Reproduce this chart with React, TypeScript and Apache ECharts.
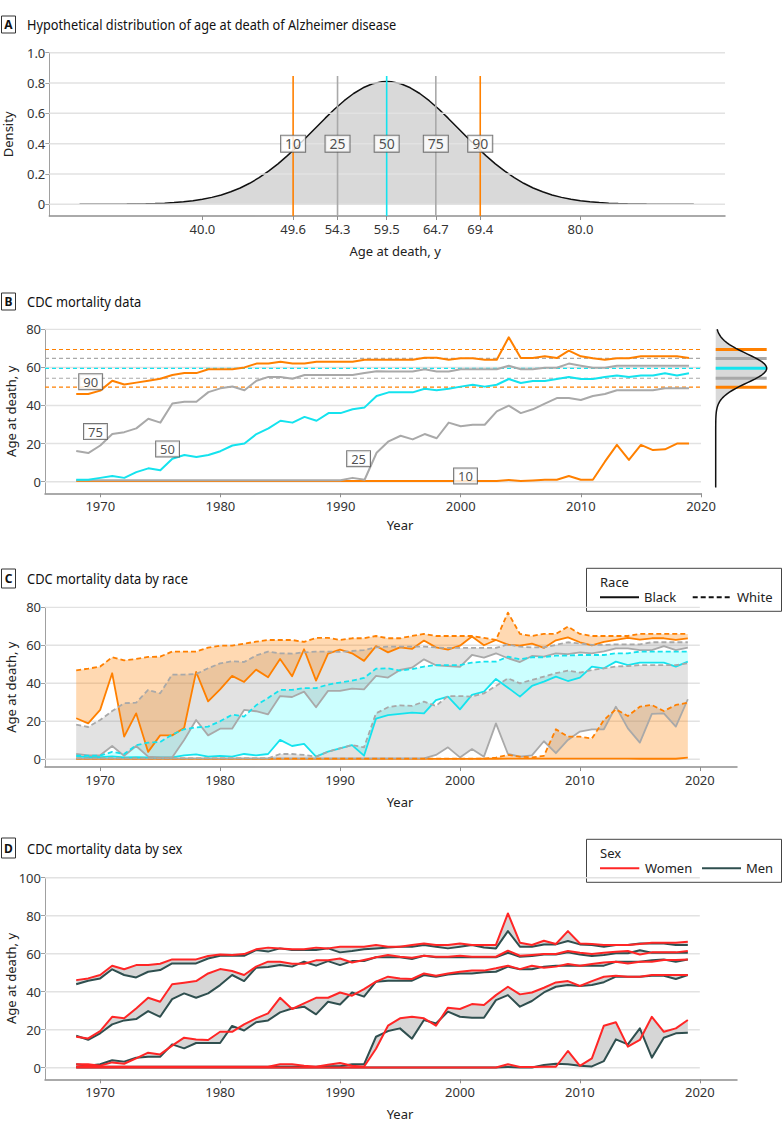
import React, { useEffect, useRef } from "react";
import * as echarts from "echarts";

const FONT = '"Noto Sans", "Open Sans", sans-serif';

const ORANGE = "#ff8000";
const GREY = "#a9a9a9";
const CYAN = "#14e3ee";
const RED = "#ff2626";
const SLATE = "#2f4f4f";
const GRIDC = "#e2e2e2";
const AXISC = "#8f8f8f";

// ---------- Panel A ----------
const densityAge = [27, 28, 29, 30, 31, 32, 33, 34, 35, 36, 37, 38, 39, 40, 41, 42, 43, 44, 45, 46, 47, 48, 49, 50, 51, 52, 53, 54, 55, 56, 57, 58, 59, 59.5, 60, 61, 62, 63, 64, 65, 66, 67, 68, 69, 70, 71, 72, 73, 74, 75, 76, 77, 78, 79, 80, 81, 82, 83, 84, 85, 86, 87, 88, 89, 90, 91, 92];
const densityValue = [0.0001, 0.0002, 0.0003, 0.0005, 0.0009, 0.0014, 0.0022, 0.0035, 0.0053, 0.0079, 0.0116, 0.0168, 0.0238, 0.0333, 0.0459, 0.062, 0.0825, 0.1079, 0.1388, 0.1756, 0.2184, 0.2671, 0.3212, 0.3799, 0.4419, 0.5053, 0.5683, 0.6285, 0.6835, 0.7309, 0.7686, 0.7949, 0.8083, 0.81, 0.8083, 0.7949, 0.7686, 0.7309, 0.6835, 0.6285, 0.5683, 0.5053, 0.4419, 0.3799, 0.3212, 0.2671, 0.2184, 0.1756, 0.1388, 0.1079, 0.0825, 0.062, 0.0459, 0.0333, 0.0238, 0.0168, 0.0116, 0.0079, 0.0053, 0.0035, 0.0022, 0.0014, 0.0009, 0.0005, 0.0003, 0.0002, 0.0001];
const pctLabels = ["10", "25", "50", "75", "90"];
const pctAges = [49.6, 54.3, 59.5, 64.7, 69.4];
const ageTicksA = [40, 49.6, 54.3, 59.5, 64.7, 69.4, 80];
const densityTicks = [0, 0.2, 0.4, 0.6, 0.8, 1.0];
const pctLineTop = 0.846;
const pctLabelDensity = 0.4;

// ---------- Shared years ----------
const years = [1968, 1969, 1970, 1971, 1972, 1973, 1974, 1975, 1976, 1977, 1978, 1979, 1980, 1981, 1982, 1983, 1984, 1985, 1986, 1987, 1988, 1989, 1990, 1991, 1992, 1993, 1994, 1995, 1996, 1997, 1998, 1999, 2000, 2001, 2002, 2003, 2004, 2005, 2006, 2007, 2008, 2009, 2010, 2011, 2012, 2013, 2014, 2015, 2016, 2017, 2018, 2019];
const yearTicks = [1970, 1980, 1990, 2000, 2010, 2020];
const ageTicks80 = [0, 20, 40, 60, 80];
const ageTicks100 = [0, 20, 40, 60, 80, 100];

// ---------- Panel B ----------
const bP90 = [46, 46, 47.8, 53, 51, 52, 53, 54, 56, 57, 57, 59, 59, 59, 60, 62, 62, 63, 62, 62, 63, 63, 63, 63, 64, 64, 64, 64, 64, 65.1, 65.1, 64, 64.8, 64.8, 64, 64, 75.8, 64.9, 64.9, 65.8, 64.9, 68.8, 65.8, 64.8, 64, 64.8, 64.8, 65.8, 65.8, 65.8, 65.8, 64.9];
const bP75 = [16.1, 15, 19, 25, 26, 28, 33, 31, 41, 42, 42, 47, 49, 50, 48, 53, 55, 55, 54, 56, 56, 56, 56, 56, 57, 58, 57.9, 57.9, 57.9, 59, 57.9, 57.9, 59, 59, 59, 59, 60.9, 59, 59, 59.8, 59.8, 62, 60.9, 59.8, 59.8, 60.9, 60.9, 60.9, 60.9, 60.9, 60.9, 60.9];
const bP50 = [1, 1, 2, 3, 2, 5, 7, 6, 12, 14, 13, 14, 16, 19, 20, 25, 28, 32, 31, 34, 32, 36, 36, 38, 39, 45, 46.9, 46.9, 46.9, 48.8, 48, 48.8, 49.9, 50.9, 49.9, 50.9, 53.9, 51.8, 52.9, 52.9, 53.9, 55, 53.9, 53.9, 55, 55.8, 55, 55.8, 55.8, 56.9, 55.8, 56.9];
const bP25 = [0.8, 0.8, 0.8, 0.8, 0.8, 0.8, 0.8, 0.8, 0.8, 0.8, 0.8, 0.8, 0.8, 0.8, 0.8, 0.8, 0.8, 0.8, 0.8, 0.8, 0.8, 0.8, 0.8, 2, 1, 15.2, 21.2, 24.1, 22.2, 25, 22.8, 31, 29.1, 29.9, 29.9, 36.9, 39.9, 36, 38, 41, 43.9, 43.9, 42.9, 45, 46, 48, 48, 48, 48, 49, 49, 49];
const bP10 = [0.3, 0.3, 0.3, 0.3, 0.3, 0.3, 0.3, 0.3, 0.3, 0.3, 0.3, 0.3, 0.3, 0.3, 0.3, 0.3, 0.3, 0.3, 0.3, 0.3, 0.3, 0.3, 0.3, 0.3, 0.3, 0.3, 0.3, 0.3, 0.3, 0.3, 0.3, 0.3, 0.3, 0.3, 0.3, 0.3, 0.9, 0.3, 0.6, 1, 1, 3, 1, 1, 10.5, 19.3, 11.4, 19.3, 16.6, 17, 20, 20];
const bLabelYear = [2000.4, 1991.5, 1975.6, 1969.6, 1969.2];
const bLabelAge = [3, 12.1, 17.2, 26.3, 52.5];
const sideTailAge = -3;

// ---------- Panel C (race) ----------
const cW90 = [46.8, 47.7, 48.8, 53.7, 52.1, 52.8, 53.9, 54, 56.7, 56.7, 56.7, 58.8, 59.8, 59.8, 60.9, 61.9, 62.8, 62.8, 62.8, 61.8, 63.9, 63.9, 62.8, 63.7, 63.7, 64.9, 63.7, 63.7, 64.9, 66, 64.9, 64.9, 64.9, 64.9, 63.9, 62.8, 77.2, 66, 64.9, 66, 66, 69.8, 66, 64.9, 64.9, 64.9, 64.9, 66, 66, 66, 66, 66];
const cB90 = [21.6, 18.9, 26, 45.3, 11.9, 24.2, 3.9, 12.6, 12.6, 16.5, 46, 30.5, 36.8, 43.9, 40.7, 47.2, 43.2, 52.8, 43.7, 57.9, 41.4, 55.6, 57.7, 55.8, 51.8, 59.6, 56.3, 58.9, 58.1, 62.5, 58.9, 57.7, 59.8, 64.6, 60, 62.8, 60.4, 59.8, 60.9, 58.6, 62.6, 64.2, 61.6, 60, 61.8, 62.8, 63.9, 63, 63.7, 63.7, 62.8, 63.7];
const cW75 = [18.2, 17, 20.7, 25.4, 29.5, 29.8, 36.5, 34.7, 44.6, 44.6, 44.9, 47.9, 50.5, 51.6, 51.2, 54.6, 56.7, 55.8, 55.6, 56.3, 56.7, 56.7, 56.5, 57, 57.5, 58.9, 59.3, 59.3, 59.3, 59.3, 58.9, 58.6, 58.6, 58.6, 58.6, 58.6, 60.5, 59.3, 58.9, 58.9, 60.2, 61.6, 61, 60.2, 60.2, 60.5, 60.5, 60.5, 61.6, 61.6, 61.6, 61.6];
const cB75 = [2.8, 2.1, 2.1, 7, 1.8, 7, 1.4, 1, 1, 10.2, 20.7, 12.6, 16.1, 16.1, 26, 25.3, 23.7, 33.3, 32.8, 35.6, 27.4, 36, 36, 37.2, 36.8, 43.9, 43, 47, 48.2, 52.6, 49.5, 49, 48.6, 54.9, 53.5, 55.8, 53.2, 51.2, 54.4, 54, 55.8, 55.3, 56.3, 55.8, 56.8, 58.4, 58.4, 57.5, 57.5, 59.6, 57.5, 58.8];
const cW50 = [1.9, 1.9, 1.9, 3.9, 2.8, 7.4, 8.8, 9.1, 13, 15.8, 16.8, 17.2, 20, 23.5, 22.5, 28.4, 32.3, 36.5, 36.5, 37.5, 37.5, 39.3, 40.4, 41.4, 42.8, 47.7, 47.9, 46.7, 47.5, 48.8, 49.6, 49.6, 49.6, 50.9, 51.4, 51.4, 54, 52.6, 53.7, 53.7, 54.6, 54.6, 54.9, 54.9, 54.9, 55.8, 55.8, 56.7, 56.7, 56.7, 56.7, 56.7];
const cB50 = [1.5, 1.2, 1.2, 1.5, 1, 1.2, 1, 1, 1, 2.1, 2.6, 1.4, 1.8, 1.4, 2.8, 2.1, 2.8, 10.2, 7, 8.1, 1.4, 4, 5.8, 7.5, 1.9, 21.4, 23.2, 23.9, 24.6, 24.2, 31.2, 33, 26.3, 33.9, 35.6, 42.3, 37.7, 33, 38.6, 40.9, 43.5, 41.2, 43, 48.8, 47.9, 51.4, 49.6, 50.9, 50.9, 50.9, 48.8, 51.4];
const cW25 = [0.5, 0.5, 0.5, 0.5, 0.5, 0.5, 0.5, 0.5, 0.5, 0.5, 0.5, 0.5, 0.5, 0.5, 0.5, 0.5, 0.5, 2.8, 2.8, 2.3, 1.4, 4, 5.8, 7.5, 6.3, 24.2, 27.4, 28.4, 28.1, 30.4, 28.1, 33.3, 33.3, 33, 34.7, 38.6, 42.6, 40, 41.8, 43.5, 45.3, 46.7, 45.6, 47, 47.9, 48.8, 49.1, 49.6, 49.6, 49.6, 49.6, 50.5];
const cB25 = [0.5, 0.5, 0.5, 0.5, 0.5, 0.5, 0.5, 0.5, 0.5, 0.5, 0.5, 0.5, 0.5, 0.5, 0.5, 0.5, 0.5, 0.5, 0.5, 0.5, 0.5, 0.5, 0.5, 0.5, 0.5, 0.5, 0.5, 0.5, 0.5, 0.5, 2.3, 6.3, 1, 5.4, 1.4, 18.9, 2.8, 1.4, 2.1, 9.5, 3.2, 10.2, 14.6, 15.8, 15.8, 27.7, 16.3, 8.8, 23.9, 24.2, 17.2, 31.6];
const cW10 = [0.4, 0.4, 0.4, 0.4, 0.4, 0.4, 0.4, 0.4, 0.4, 0.4, 0.4, 0.4, 0.4, 0.4, 0.4, 0.4, 0.4, 0.4, 0.4, 0.4, 0.4, 0.4, 0.4, 0.4, 0.4, 0.4, 0.4, 0.4, 0.4, 0.4, 0.4, 0.4, 0.4, 0.4, 0.4, 0.9, 2.3, 1.4, 1, 1.8, 15.8, 11.9, 11.9, 10.9, 20.7, 26.3, 22.8, 27.7, 28.6, 25.4, 28.6, 29.8];
const cB10 = [0.2, 0.2, 0.2, 0.2, 0.2, 0.2, 0.2, 0.2, 0.2, 0.2, 0.2, 0.2, 0.2, 0.2, 0.2, 0.2, 0.2, 0.2, 0.2, 0.2, 0.2, 0.2, 0.2, 0.2, 0.2, 0.2, 0.2, 0.2, 0.2, 0.2, 0.2, 0.2, 0.2, 0.2, 0.3, 0.3, 0.4, 0.4, 0.4, 0.4, 0.4, 0.4, 0.4, 0.4, 0.4, 0.4, 0.4, 0.3, 0.3, 0.3, 0.3, 0.9];

// ---------- Panel D (sex) ----------
const dW90 = [46.1, 47, 48.8, 53.7, 51.8, 54, 54, 54.7, 57, 57, 57, 58.8, 59.6, 59.3, 59.8, 62.3, 63.2, 62.8, 62.3, 62.3, 63.2, 62.8, 63.7, 63.7, 63.7, 64.6, 63.7, 63.7, 64.6, 65.4, 64.6, 64.6, 65.4, 64.6, 64.6, 64.6, 81.2, 65.8, 64.6, 66.8, 65.1, 71.9, 65.4, 65.1, 64.6, 64.6, 64.6, 65.1, 65.8, 65.8, 65.8, 66.3];
const dM90 = [43.9, 45.8, 47, 51.8, 48.8, 47.5, 50.5, 51.4, 54.9, 54.9, 54.9, 57.5, 58.9, 58.9, 58.9, 61.9, 61.1, 62.8, 61.9, 61.9, 61.9, 62.8, 60.7, 61.4, 62.3, 62.8, 63.3, 63.7, 63.7, 64.6, 63.7, 62.8, 63.7, 64.6, 63.3, 62.8, 71.9, 63.7, 63.7, 64.9, 64.9, 66.7, 64.9, 64.6, 63.7, 64.6, 64.6, 65.4, 65.4, 65.4, 64.6, 64.6];
const dW75 = [16.3, 15.4, 19.3, 26.8, 26, 31.2, 36.8, 34.7, 43.9, 44.7, 45.6, 49.6, 51.9, 50.9, 48.8, 53.2, 55.8, 55.8, 54.7, 54.7, 56.5, 56.5, 57.5, 55.4, 56.7, 58.1, 59.3, 58.4, 57.9, 58.9, 58.4, 58.4, 58.9, 58.4, 58.4, 58.4, 61.6, 58.9, 59.3, 59.8, 59.8, 61.4, 60.5, 59.8, 60.5, 61, 61.4, 59.6, 60.7, 60.7, 60.7, 61.4];
const dM75 = [16.8, 14.7, 18.1, 22.8, 24.9, 25.6, 29.8, 26.8, 36.1, 39.1, 36.8, 39.1, 43.5, 48.8, 45.6, 52.6, 53, 54, 53.2, 55.8, 53.7, 56.1, 54, 56.1, 56.1, 58.1, 58.1, 58.1, 57.2, 58.9, 58.1, 58.1, 58.1, 58.1, 58.1, 58.1, 60.5, 58.4, 58.8, 59.6, 59.6, 60.7, 59.6, 58.8, 59.3, 60.2, 60.2, 61.8, 60.5, 60.5, 60.5, 60.5];
const dW50 = [1.8, 1.8, 1.1, 2.8, 2.1, 4.9, 7.9, 7, 11.6, 15.8, 14.9, 14.6, 18.9, 18.9, 22.8, 26, 28.6, 36.8, 30.9, 33.9, 36.8, 36.8, 39.6, 37.9, 41.4, 45.3, 47.9, 47, 46.7, 49.6, 48.4, 49.6, 50.5, 51.1, 51.1, 52.3, 53.7, 51.9, 53.7, 52.6, 53.2, 54.6, 53.7, 54.6, 55.4, 55.8, 54.9, 55.8, 55.8, 56.7, 56.7, 57];
const dM50 = [1.8, 1.1, 1.8, 3.9, 3.2, 5.3, 5.8, 5.8, 12.3, 10.2, 13, 13, 13, 22, 19.6, 23.9, 24.9, 29.1, 31.2, 32.1, 28.1, 34.7, 33.3, 39.6, 37.4, 45.3, 45.8, 45.8, 45.8, 48.8, 47.9, 49.1, 49.6, 49.6, 50.2, 50.5, 53.2, 51.8, 51.8, 53.2, 53.7, 53.7, 53.7, 53.7, 53.7, 55.8, 55.8, 55.8, 56.5, 57, 55.8, 57];
const dW25 = [0.5, 1, 0.5, 0.5, 0.5, 0.5, 0.5, 0.5, 0.5, 0.5, 0.5, 0.5, 0.5, 0.5, 0.5, 0.5, 0.5, 1.8, 1.8, 1, 0.5, 1.5, 2.5, 1, 0.5, 10, 22.1, 26, 26.8, 26, 22.1, 31.6, 30.9, 33.5, 33, 38.2, 42.6, 38.6, 39.6, 42.1, 44.9, 45.6, 43, 45.6, 47.9, 48.4, 47.9, 47.9, 48.8, 48.8, 48.8, 48.8];
const dM25 = [0.5, 0.5, 0.5, 0.5, 0.5, 0.5, 0.5, 0.5, 0.5, 0.5, 0.5, 0.5, 0.5, 0.5, 0.5, 0.5, 0.5, 0.5, 0.5, 0.5, 0.5, 0.8, 0.8, 1.8, 1.8, 16.3, 19.3, 20.7, 15.3, 25.1, 23.3, 29.5, 26.8, 26.3, 26.3, 35.6, 38.2, 32.1, 35.1, 39.6, 42.6, 43.5, 43, 43.5, 45, 47.9, 47.9, 47.9, 48.4, 48.4, 46.7, 48.8];
const dW10 = [0.1, 0.1, 0.1, 0.1, 0.1, 0.1, 0.1, 0.1, 0.1, 0.1, 0.1, 0.1, 0.1, 0.1, 0.1, 0.1, 0.1, 0.1, 0.1, 0.1, 0.1, 0.1, 0.1, 0.1, 0.1, 0.1, 0.1, 0.1, 0.1, 0.1, 0.1, 0.1, 0.1, 0.1, 0.1, 0.1, 1.8, 0.4, 0.4, 0.5, 0.5, 8.8, 1, 4.9, 22.1, 23.9, 11.1, 14.6, 26.8, 18.9, 20.7, 25.1];
const dM10 = [0.1, 0.1, 0.1, 0.1, 0.1, 0.1, 0.1, 0.1, 0.1, 0.1, 0.1, 0.1, 0.1, 0.1, 0.1, 0.1, 0.1, 0.1, 0.1, 0.1, 0.1, 0.1, 0.1, 0.1, 0.1, 0.1, 0.1, 0.1, 0.1, 0.1, 0.1, 0.1, 0.1, 0.1, 0.1, 0.1, 0.4, 0.1, 0.1, 1.4, 2.1, 1.8, 1, 0.7, 3.5, 14.9, 12.3, 20.7, 5.3, 15.8, 18.1, 18.4];

// ---------- helpers ----------
const pairs = (xs: number[], ys: number[]) => xs.map((x, i) => [x, ys[i]]);

const lineS = (xi: number, yi: number, data: any[], color: string, width: number, dashed: any = false, z = 3) => ({
  type: "line",
  xAxisIndex: xi,
  yAxisIndex: yi,
  data,
  symbol: "none",
  silent: true,
  z,
  lineStyle: { color, width, type: dashed ? dashed : "solid", cap: "butt", join: "round" },
});

const gridLineSeries = (xi: number, yi: number, x0: number, x1: number, vals: number[], z: number) =>
  vals.map((v) => lineS(xi, yi, [[x0, v], [x1, v]], GRIDC, 1.5, false, z));

const bandS = (xi: number, yi: number, upper: number[], lower: number[], fill: string, z = 2) => ({
  type: "custom",
  xAxisIndex: xi,
  yAxisIndex: yi,
  silent: true,
  z,
  data: [[years[0], upper[0]]],
  renderItem: (_p: any, api: any) => {
    const pts: number[][] = [];
    for (let i = 0; i < years.length; i++) pts.push(api.coord([years[i], upper[i]]));
    for (let i = years.length - 1; i >= 0; i--) pts.push(api.coord([years[i], lower[i]]));
    return { type: "polygon", shape: { points: pts }, style: { fill, stroke: "none" } };
  },
});

const labelS = (xi: number, yi: number, xs: number[], ys: number[], texts: string[], fontSize: number) => ({
  type: "scatter",
  xAxisIndex: xi,
  yAxisIndex: yi,
  z: 6,
  silent: true,
  symbolSize: 1,
  itemStyle: { color: "rgba(0,0,0,0)" },
  data: xs.map((x, i) => [x, ys[i], texts[i]]),
  label: {
    show: true,
    position: "inside",
    formatter: (p: any) => p.data[2],
    backgroundColor: "#fff",
    borderColor: "#555",
    borderWidth: 1,
    padding: [1, 4],
    fontSize,
    fontFamily: FONT,
    color: "#222",
  },
});

const xAx = (gi: number, min: number, max: number, ticks: number[], fmt: (v: number) => string, name: string, gap: number, padLeft: number) => ({
  gridIndex: gi,
  type: "value",
  min,
  max,
  splitLine: { show: false },
  axisLine: { show: true, onZero: false, lineStyle: { color: AXISC, width: 1.5 } },
  axisTick: { show: true, customValues: ticks, length: 4, lineStyle: { color: AXISC } },
  axisLabel: { customValues: ticks, formatter: fmt, color: "#333", fontSize: 13, fontFamily: FONT, margin: 6 },
  name,
  nameLocation: "middle",
  nameGap: gap,
  nameMoveOverlap: false,
  nameTextStyle: { color: "#222", fontSize: 13, fontFamily: FONT, padding: [0, 0, 0, padLeft] },
});

const yAx = (gi: number, min: number, max: number, ticks: number[], fmt: (v: number) => string, name: string, gap: number) => ({
  gridIndex: gi,
  type: "value",
  min,
  max,
  splitLine: { show: false },
  axisLine: { show: true, onZero: false, lineStyle: { color: "#a0a0a0", width: 1 } },
  axisTick: { show: true, customValues: ticks, length: 4, lineStyle: { color: "#a0a0a0" } },
  axisLabel: { customValues: ticks, formatter: fmt, color: "#333", fontSize: 13, fontFamily: FONT, margin: 4 },
  name,
  nameLocation: "middle",
  nameGap: gap,
  nameMoveOverlap: false,
  nameTextStyle: { color: "#222", fontSize: 13, fontFamily: FONT },
});

const panelTitle = (letter: string, y0: number, h: number, text: string, squeeze: number) => [
  { type: "rect", shape: { x: 1.5, y: y0, width: 14, height: h }, style: { fill: "#fff", stroke: "#333", lineWidth: 1 } },
  { type: "text", x: 8.5, y: y0 + h / 2, style: { text: letter, fontWeight: "bold", fontSize: 12, fontFamily: FONT, fill: "#111", textAlign: "center", textVerticalAlign: "middle" } },
  { type: "text", x: 27, y: y0 + h / 2, scaleX: squeeze, style: { text, fontSize: 15, fontFamily: FONT, fill: "#111", textAlign: "left", textVerticalAlign: "middle" } },
];

const legendBox = (y0: number, title: string, items: { label: string; color: string; dash: any; x1: number; x2: number; tx: number }[]) => {
  const els: any[] = [
    { type: "rect", shape: { x: 586.5, y: y0, width: 195, height: 43 }, style: { fill: "#fff", stroke: "#444", lineWidth: 1 } },
    { type: "text", x: 600, y: y0 + 14, style: { text: title, fontSize: 13, fontFamily: FONT, fill: "#222", textAlign: "left", textVerticalAlign: "middle" } },
  ];
  items.forEach((it) => {
    els.push({ type: "line", shape: { x1: it.x1, y1: y0 + 29, x2: it.x2, y2: y0 + 29 }, style: { stroke: it.color, lineWidth: 2, lineDash: it.dash } });
    els.push({ type: "text", x: it.tx, y: y0 + 29, style: { text: it.label, fontSize: 13, fontFamily: FONT, fill: "#222", textAlign: "left", textVerticalAlign: "middle" } });
  });
  return els;
};

const yearFmt = (v: number) => String(v);
const intFmt = (v: number) => String(v);

function buildOption() {
  const pctColors = [ORANGE, GREY, CYAN, GREY, ORANGE];
  const series: any[] = [];

  // ----- Panel A -----
  series.push({
    type: "line",
    xAxisIndex: 0,
    yAxisIndex: 0,
    data: pairs(densityAge, densityValue),
    symbol: "none",
    silent: true,
    z: 1,
    lineStyle: { color: "#111", width: 1.5 },
    areaStyle: { color: "#d9d9d9", opacity: 1 },
  });
  series.push(...gridLineSeries(0, 0, 23.8, 95.3, densityTicks, 2));
  pctAges.forEach((a, i) => series.push(lineS(0, 0, [[a, -0.077], [a, pctLineTop]], pctColors[i], 1.6, false, 3)));
  series.push(labelS(0, 0, pctAges, pctAges.map(() => pctLabelDensity), pctLabels, 14));

  // ----- Panel B -----
  series.push(...gridLineSeries(1, 1, 1965.4, 2020, ageTicks80, 1));
  pctAges.forEach((a, i) => series.push(lineS(1, 1, [[1965.4, a], [2020, a]], pctColors[i], 1.2, [4, 3], 2)));
  const bSeries = [bP10, bP25, bP50, bP75, bP90];
  bSeries.forEach((s, i) => series.push(lineS(1, 1, pairs(years, s), pctColors[i], 2, false, 3)));
  series.push(labelS(1, 1, bLabelYear, bLabelAge, pctLabels, 13));

  // side density
  const sideCurve: number[][] = [[0, sideTailAge]];
  densityAge.forEach((a, i) => {
    if (a <= 80) sideCurve.push([densityValue[i], a]);
  });
  series.push({
    type: "custom",
    xAxisIndex: 2,
    yAxisIndex: 2,
    silent: true,
    z: 1,
    data: [[0, 0]],
    renderItem: (_p: any, api: any) => {
      const pts = sideCurve.map((d) => api.coord(d));
      pts.push(api.coord([0, sideCurve[sideCurve.length - 1][1]]));
      pts.push(api.coord([0, sideTailAge]));
      return { type: "polygon", shape: { points: pts }, style: { fill: "#d9d9d9", stroke: "none" } };
    },
  });
  pctAges.forEach((a, i) => series.push(lineS(2, 2, [[0, a], [0.81, a]], pctColors[i], 3, false, 2)));
  series.push(lineS(2, 2, sideCurve, "#111", 1.5, false, 3));

  // ----- Panel C -----
  series.push(...gridLineSeries(3, 3, 1965.4, 2020, ageTicks80, 1));
  const cFill = ["rgba(255,128,0,0.3)", "rgba(150,150,150,0.28)", "rgba(0,255,255,0.2)", "rgba(150,150,150,0.28)", "rgba(255,128,0,0.3)"];
  const cW = [cW10, cW25, cW50, cW75, cW90];
  const cB = [cB10, cB25, cB50, cB75, cB90];
  cW.forEach((w, i) => series.push(bandS(3, 3, w, cB[i], cFill[i], 2)));
  cB.forEach((b, i) => series.push(lineS(3, 3, pairs(years, b), pctColors[i], 1.8, false, 3)));
  cW.forEach((w, i) => series.push(lineS(3, 3, pairs(years, w), pctColors[i], 1.8, [5, 3], 4)));

  // ----- Panel D -----
  series.push(...gridLineSeries(4, 4, 1965.4, 2020, ageTicks100, 1));
  const dW = [dW10, dW25, dW50, dW75, dW90];
  const dM = [dM10, dM25, dM50, dM75, dM90];
  dW.forEach((w, i) => series.push(bandS(4, 4, w, dM[i], "#d6d6d6", 2)));
  dM.forEach((m) => series.push(lineS(4, 4, pairs(years, m), SLATE, 2, false, 3)));
  dW.forEach((w) => series.push(lineS(4, 4, pairs(years, w), RED, 2, false, 4)));

  const graphic: any[] = [
    ...panelTitle("A", 16, 17, "Hypothetical distribution of age at death of Alzheimer disease", 0.85),
    ...panelTitle("B", 293, 17, "CDC mortality data", 0.86),
    ...panelTitle("C", 569, 19, "CDC mortality data by race", 0.86),
    ...panelTitle("D", 838, 20, "CDC mortality data by sex", 0.86),
    ...legendBox(568.3, "Race", [
      { label: "Black", color: "#111", dash: null, x1: 600, x2: 639, tx: 644 },
      { label: "White", color: "#111", dash: [5, 3], x1: 692.7, x2: 732.7, tx: 737 },
    ]),
    ...legendBox(839.3, "Sex", [
      { label: "Women", color: RED, dash: null, x1: 600, x2: 639.3, tx: 645 },
      { label: "Men", color: SLATE, dash: null, x1: 702, x2: 741, tx: 746 },
    ]),
  ];

  return {
    animation: false,
    backgroundColor: "#fff",
    textStyle: { fontFamily: FONT },
    grid: [
      { left: 49.3, top: 52.7, width: 675.7, height: 163.3, outerBoundsMode: "none", containLabel: false },
      { left: 45, top: 329.3, width: 656, height: 164, outerBoundsMode: "none", containLabel: false },
      { left: 715.7, top: 329.3, width: 51, height: 164, outerBoundsMode: "none", containLabel: false },
      { left: 45, top: 607.3, width: 692, height: 159.7, outerBoundsMode: "none", containLabel: false },
      { left: 45, top: 877.7, width: 692, height: 201.6, outerBoundsMode: "none", containLabel: false },
    ],
    xAxis: [
      xAx(0, 23.8, 95.3, ageTicksA, (v: number) => v.toFixed(1), "Age at death, y", 28, 16),
      xAx(1, 1965.4, 2020, yearTicks, yearFmt, "Year", 25, 54),
      { gridIndex: 2, type: "value", min: 0, max: 0.81, show: false },
      xAx(3, 1965.4, 2023.1, yearTicks, yearFmt, "Year", 28, 18),
      xAx(4, 1965.4, 2023.1, yearTicks, yearFmt, "Year", 28, 18),
    ],
    yAxis: [
      yAx(0, -0.077, 1.0, densityTicks, (v: number) => (v === 0 ? "0" : v.toFixed(1)), "Density", 35),
      yAx(1, -6.1, 80, ageTicks80, intFmt, "Age at death, y", 28),
      { gridIndex: 2, type: "value", min: -6.1, max: 80, show: false },
      yAx(3, -4.05, 80, ageTicks80, intFmt, "Age at death, y", 28),
      yAx(4, -6.1, 100, ageTicks100, intFmt, "Age at death, y", 28),
    ],
    series,
    graphic,
  };
}

export default function App() {
  const ref = useRef<HTMLDivElement>(null);
  useEffect(() => {
    if (!ref.current) return;
    const chart = echarts.init(ref.current, null, { renderer: "svg" });
    chart.setOption(buildOption() as any);
    return () => chart.dispose();
  }, []);
  return <div ref={ref} style={{ position: "absolute", left: 0, top: 0, width: 783, height: 1133, background: "#fff" }} />;
}
